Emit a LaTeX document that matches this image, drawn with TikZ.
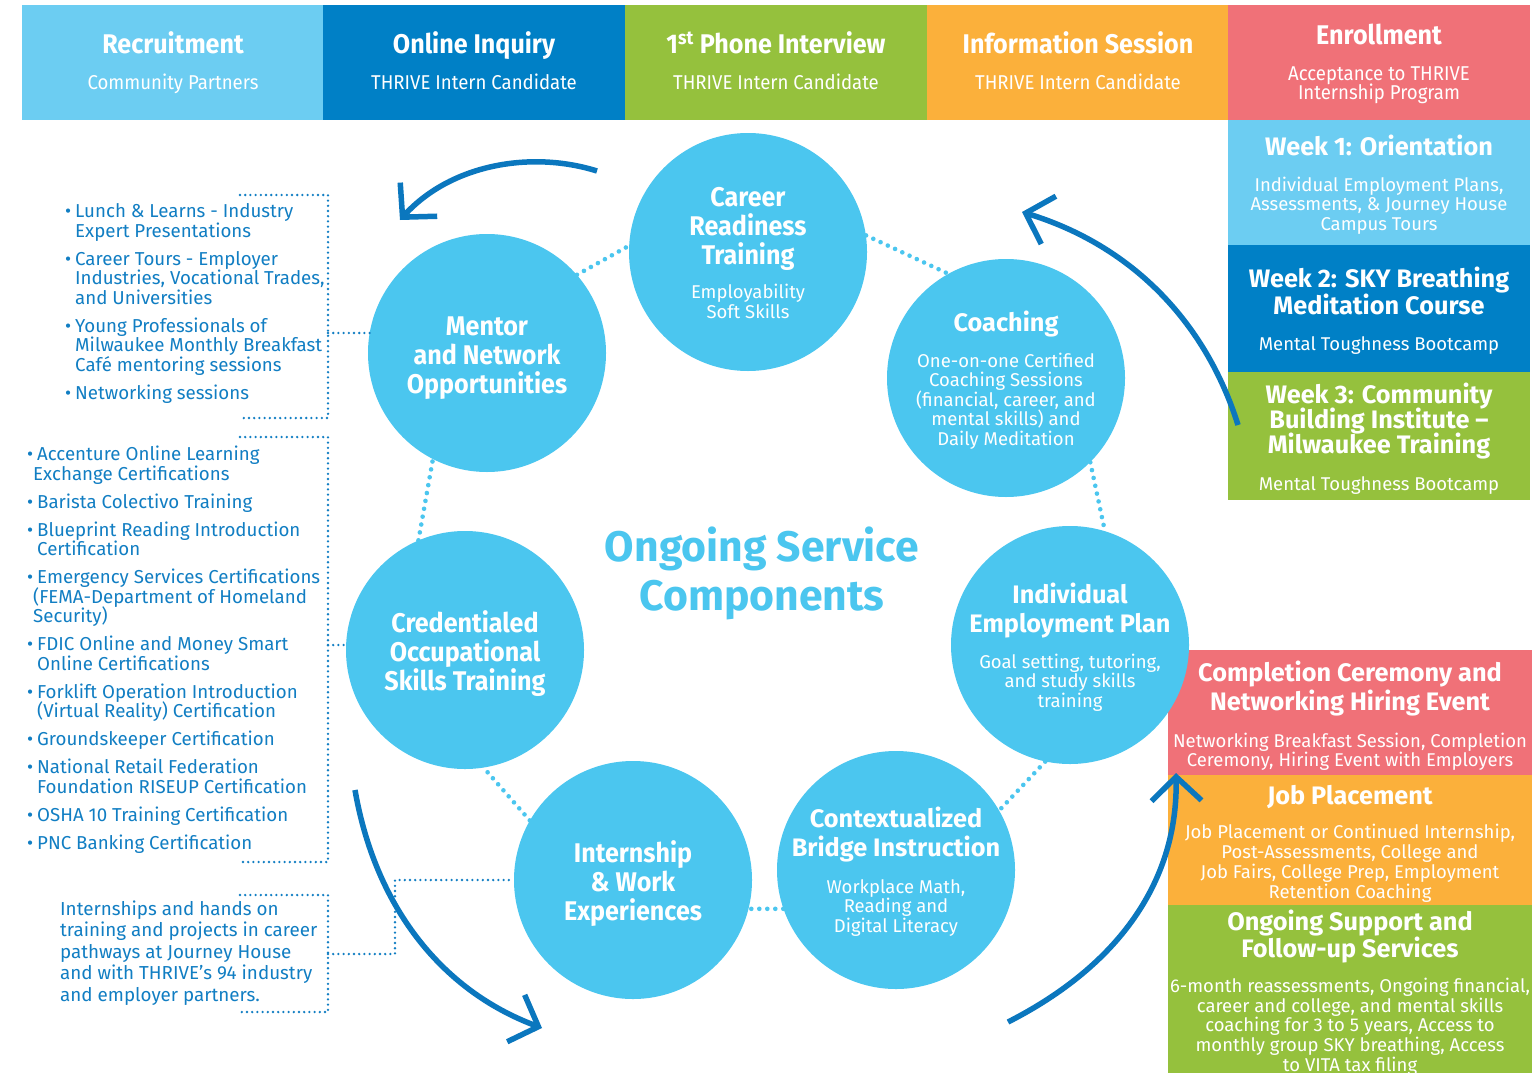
\documentclass[tikz,border=0pt]{standalone}
\usepackage{fontspec}
\setmainfont{Fira Sans}
\newfontfamily\condfont[FakeStretch=0.93]{Fira Sans}
\usetikzlibrary{arrows.meta}
\definecolor{lblue}{HTML}{6CCDF2}
\definecolor{dblue}{HTML}{0080C6}
\definecolor{lgreen}{HTML}{95C13D}
\definecolor{orng}{HTML}{FBB03B}
\definecolor{pinkred}{HTML}{F07178}
\definecolor{circ}{HTML}{4BC6EF}
\definecolor{txtblue}{HTML}{117EC3}
\definecolor{arrblue}{HTML}{0B77BE}
\begin{document}
\begin{tikzpicture}[x=1pt,y=-1pt,
  circnode/.style={circle, fill=circ, minimum size=238pt, inner sep=0pt},
  ctitle/.style={text=white, font=\condfont\bfseries\fontsize{27}{29}\selectfont, align=center, anchor=base, inner sep=0pt},
  ctitlew/.style={text=white, font=\bfseries\fontsize{25.3}{29}\selectfont, align=center, anchor=base, inner sep=0pt},
  csub/.style={text=white, font=\fontsize{18.5}{19.5}\selectfont, align=center, anchor=base, inner sep=0pt},
  toptitle/.style={text=white, font=\condfont\bfseries\fontsize{27}{29}\selectfont, align=center, anchor=base, inner sep=0pt},
  topsub/.style={text=white, font=\condfont\fontsize{20}{19.5}\selectfont, align=center, anchor=base, inner sep=0pt},
  rtitle/.style={text=white, font=\bfseries\fontsize{25.3}{27}\selectfont, align=center, anchor=base, inner sep=0pt},
  rsub/.style={text=white, font=\fontsize{18.5}{19.5}\selectfont, align=center, anchor=base, inner sep=0pt},
  listtxt/.style={text=txtblue, font=\fontsize{18.7}{19.5}\selectfont, align=left, anchor=base west, inner sep=0pt},
  ringdots/.style={circ, line width=4.6pt, dash pattern=on 0pt off 8pt, line cap=round},
  brdots/.style={txtblue, line width=2.6pt, dash pattern=on 0pt off 5.2pt, line cap=round},
  bigarrow/.style={arrblue, line width=5.5pt, -{Straight Barb[length=24pt,width=50pt]}}
]
\lineskiplimit=-50pt\relax
\useasboundingbox (0,0) rectangle (1536,1073);
\fill[white] (0,0) rectangle (1536,1073);

% ---------- top bar ----------
\fill[lblue]   (22,5)   rectangle (323,120);
\fill[dblue]   (323,5)  rectangle (625,120);
\fill[lgreen]  (625,5)  rectangle (927,120);
\fill[orng]    (927,5)  rectangle (1228,120);
\fill[pinkred] (1228,5) rectangle (1530,120);

\node[toptitle] (t1) at (173,54) {Recruitment};
\node[topsub]   (s1) at (173,89.5) {Community Partners};
\node[toptitle] (t2) at (474,54) {Online Inquiry};
\node[topsub]   (s2) at (474,89.5) {THRIVE Intern Candidate};
\node[toptitle] (t3) at (776,54) {1\textsuperscript{st} Phone Interview};
\node[topsub]   (s3) at (776,89.5) {THRIVE Intern Candidate};
\node[toptitle] (t4) at (1078,54) {Information Session};
\node[topsub]   (s4) at (1078,89.5) {THRIVE Intern Candidate};
\node[toptitle] (t5) at (1379,45) {Enrollment};
\node[topsub]   (s5) at (1379,99.5) {Acceptance to THRIVE\\Internship Program};

% ---------- right column (weeks) ----------
\fill[lblue]  (1228,120) rectangle (1530,245);
\fill[dblue]  (1228,245) rectangle (1530,372);
\fill[lgreen] (1228,372) rectangle (1530,500);
\node[rtitle] (w1t) at (1379,155) {Week 1: Orientation};
\node[rsub]   (w1s) at (1379,230) {Individual Employment Plans,\\Assessments, \& Journey House\\Campus Tours};
\node[rtitle] (w2t) at (1379,314) {Week 2: SKY Breathing\\Meditation Course};
\node[rsub]   (w2s) at (1379,350) {Mental Toughness Bootcamp};
\node[rtitle, font=\bfseries\fontsize{25.3}{25}\selectfont] (w3t) at (1379,453) {Week 3: Community\\Building Institute --\\Milwaukee Training};
\node[rsub]   (w3s) at (1379,490) {Mental Toughness Bootcamp};

% ---------- bottom right column ----------
\fill[pinkred] (1168,650) rectangle (1532,775);
\fill[orng]    (1168,775) rectangle (1532,905);
\fill[lgreen]  (1168,905) rectangle (1532,1073);
\node[rtitle, font=\bfseries\fontsize{25.3}{29}\selectfont] (c1t) at (1350,710) {Completion Ceremony and\\Networking Hiring Event};
\node[rsub, font=\fontsize{18.5}{19}\selectfont] (c1s) at (1350,766) {Networking Breakfast Session, Completion\\Ceremony, Hiring Event with Employers};
\node[rtitle] (c2t) at (1350,804) {Job Placement};
\node[rsub, font=\fontsize{18.5}{19.7}\selectfont] (c2s) at (1350,898) {Job Placement or Continued Internship,\\Post-Assessments, College and\\Job Fairs, College Prep, Employment\\Retention Coaching};
\node[rtitle] (c3t) at (1350,957) {Ongoing Support and\\Follow-up Services};
\node[rsub, font=\fontsize{18.5}{19.6}\selectfont] (c3s) at (1350,1071) {6-month reassessments, Ongoing financial,\\career and college, and mental skills\\coaching for 3 to 5 years, Access to\\monthly group SKY breathing, Access\\to VITA tax filing};

% ---------- circles ----------
\node[circnode] (career) at (748,252) {};
\node[circnode] (coach)  at (1006,378) {};
\node[circnode] (iep)    at (1070,645) {};
\node[circnode] (ctx)    at (896,870) {};
\node[circnode] (intern) at (633,880) {};
\node[circnode] (cred)   at (465,650) {};
\node[circnode] (mentor) at (487,353) {};

\draw[ringdots] (mentor.41) -- (career.177);
\draw[ringdots] (career.8) -- (coach.119);
\draw[ringdots] (coach.-45) -- (iep.73);
\draw[ringdots] (iep.258) -- (ctx.30);
\draw[ringdots] (ctx.199) -- (intern.-14);
\draw[ringdots] (intern.150) -- (cred.-81);
\draw[ringdots] (cred.113) -- (mentor.243);

\node[ctitle] (careert) at (748,264) {Career\\Readiness\\Training};
\node[csub]   (careers) at (748,318) {Employability\\Soft Skills};
\node[ctitle] (mentort) at (487,393) {Mentor\\and Network\\Opportunities};
\node[ctitlew] (coacht) at (1006,331) {Coaching};
\node[csub]   (coachs)  at (1006,445) {One-on-one Certified\\Coaching Sessions\\(financial, career, and\\mental skills) and\\Daily Meditation};
\node[ctitlew] (iept)   at (1070,632) {Individual\\Employment Plan};
\node[csub]   (ieps)    at (1070,707) {Goal setting, tutoring,\\and study skills\\training};
\node[ctitlew] (ctxt)   at (896,856) {Contextualized\\Bridge Instruction};
\node[csub]   (ctxs)    at (896,932) {Workplace Math,\\Reading and\\Digital Literacy};
\node[ctitle] (internt) at (633,920) {Internship\\\& Work\\Experiences};
\node[ctitle] (credt)   at (465,690) {Credentialed\\Occupational\\Skills Training};

\node[text=circ, font=\bfseries\fontsize{42.7}{49}\selectfont, align=center, anchor=base, inner sep=0pt] (center) at (762,610) {Ongoing Service\\Components};

% ---------- left lists ----------
\node[listtxt] (l1) at (75,399) {\llap{•\kern4pt}Lunch \& Learns - Industry\\Expert Presentations\\[8.5pt]
\llap{•\kern4pt}Career Tours - Employer\\Industries, Vocational Trades,\\and Universities\\[8.5pt]
\llap{•\kern4pt}Young Professionals of\\Milwaukee Monthly Breakfast\\Café mentoring sessions\\[8.5pt]
\llap{•\kern4pt}Networking sessions};

\node[listtxt] (l2) at (37,849) {\llap{•\kern4pt}Accenture Online Learning\\\kern-4pt Exchange Certifications\\[8.5pt]
\llap{•\kern4pt}Barista Colectivo Training\\[8.5pt]
\llap{•\kern4pt}Blueprint Reading Introduction\\Certification\\[8.5pt]
\llap{•\kern4pt}Emergency Services Certifications\\\kern-4pt(FEMA-Department of Homeland\\\kern-4pt Security)\\[8.5pt]
\llap{•\kern4pt}FDIC Online and Money Smart\\Online Certifications\\[8.5pt]
\llap{•\kern4pt}Forklift Operation Introduction\\(Virtual Reality) Certification\\[8.5pt]
\llap{•\kern4pt}Groundskeeper Certification\\[8.5pt]
\llap{•\kern4pt}National Retail Federation\\Foundation RISEUP Certification\\[8.5pt]
\llap{•\kern4pt}OSHA 10 Training Certification\\[8.5pt]
\llap{•\kern4pt}PNC Banking Certification};

\node[listtxt, font=\fontsize{18.8}{21.5}\selectfont] (l3) at (60,1001) {Internships and hands on\\training and projects in career\\pathways at Journey House\\and with THRIVE’s 94 industry\\and employer partners.};

% ---------- brackets ----------
\coordinate (b1a) at (240,195); \coordinate (b1b) at (328,195);
\coordinate (b1c) at (328,418); \coordinate (b1d) at (240,418);
\coordinate (b1m) at (328,333);
\draw[brdots] (b1a) -- (b1b) -- (b1c) -- (b1d);
\draw[brdots] (b1m) -- (b1m -| mentor.170);

\coordinate (b2a) at (240,437); \coordinate (b2b) at (328,437);
\coordinate (b2c) at (328,862); \coordinate (b2d) at (240,862);
\coordinate (b2m) at (328,645);
\draw[brdots] (b2a) -- (b2b) -- (b2c) -- (b2d);
\draw[brdots] (b2m) -- (b2m -| cred.178);

\coordinate (b3a) at (240,895); \coordinate (b3b) at (328,895);
\coordinate (b3c) at (328,1012); \coordinate (b3d) at (240,1012);
\coordinate (b3m) at (328,954);
\coordinate (b3k) at (395,954); \coordinate (b3j) at (395,880);
\draw[brdots] (b3a) -- (b3b) -- (b3c) -- (b3d);
\draw[brdots] (b3m) -- (b3k) -- (b3j) -- (intern.west);

% ---------- big arrows ----------
\coordinate (a1s) at (597,171); \coordinate (a1e) at (400,220);
\draw[bigarrow] (a1s) .. controls (530,150) and (450,165) .. (a1e);
\coordinate (a2s) at (1238,425); \coordinate (a2e) at (1022,212);
\draw[bigarrow] (a2s) .. controls (1205,320) and (1130,245) .. (a2e);
\coordinate (a3s) at (355,790); \coordinate (a3e) at (542,1028);
\draw[bigarrow] (a3s) .. controls (375,905) and (440,990) .. (a3e);
\coordinate (a4s) at (1008,1022); \coordinate (a4e) at (1176,773);
\draw[bigarrow] (a4s) .. controls (1120,965) and (1178,880) .. (a4e);
\end{tikzpicture}
\end{document}
